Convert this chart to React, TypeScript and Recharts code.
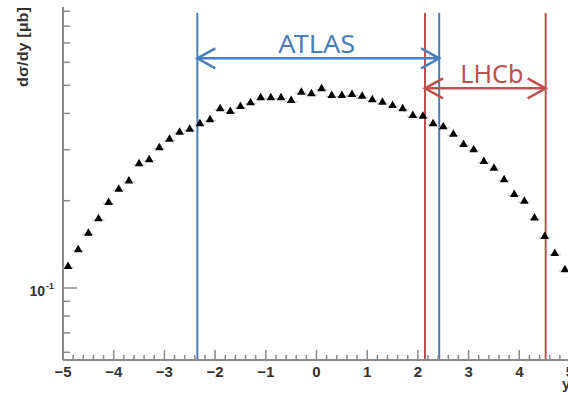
import React from 'react';
import { ComposedChart, Scatter, XAxis, YAxis, ReferenceLine } from 'recharts';

// Bin centres (rapidity y)
const yCenters = [
  -4.9, -4.7, -4.5, -4.3, -4.1, -3.9, -3.7, -3.5, -3.3, -3.1,
  -2.9, -2.7, -2.5, -2.3, -2.1, -1.9, -1.7, -1.5, -1.3, -1.1,
  -0.9, -0.7, -0.5, -0.3, -0.1, 0.1, 0.3, 0.5, 0.7, 0.9,
  1.1, 1.3, 1.5, 1.7, 1.9, 2.1, 2.3, 2.5, 2.7, 2.9,
  3.1, 3.3, 3.5, 3.7, 3.9, 4.1, 4.3, 4.5, 4.7, 4.9,
];
// dσ/dy [μb]
const dsigmaDy = [
  0.119, 0.136, 0.155, 0.174, 0.198, 0.220, 0.235, 0.269, 0.278, 0.306,
  0.327, 0.346, 0.354, 0.370, 0.382, 0.417, 0.408, 0.424, 0.437, 0.455,
  0.455, 0.455, 0.445, 0.475, 0.469, 0.488, 0.463, 0.463, 0.467, 0.460,
  0.448, 0.439, 0.428, 0.417, 0.395, 0.393, 0.370, 0.361, 0.340, 0.314,
  0.301, 0.274, 0.260, 0.237, 0.211, 0.200, 0.175, 0.151, 0.132, 0.116,
];

const atlasRange = [-2.35, 2.42];
const lhcbRange = [2.14, 4.52];
const atlasLabel = 'ATLAS';
const lhcbLabel = 'LHCb';

const xDomain = [-5, 5];
const yDomain = [0.05645, 0.9311];
const xMajorTicks = [-5, -4, -3, -2, -1, 0, 1, 2, 3, 4, 5];
const xMinorTicks = Array.from({ length: 51 }, (_, i) => Math.round((-5 + i * 0.2) * 10) / 10);
const yTicks = [0.06, 0.07, 0.08, 0.09, 0.1, 0.2, 0.3, 0.4, 0.5, 0.6, 0.7, 0.8, 0.9];
const yMajorTicks = [0.1];

const lineTop = 0.8877;
const atlasArrowY = 0.6196;
const lhcbArrowY = 0.488;

const data = yCenters.map((y, i) => ({ y, v: dsigmaDy[i] }));

const PLOT_LEFT = 63;
const PLOT_BOTTOM = 360;
const AXIS_COLOR = '#8a8a8a';
const TEXT_COLOR = '#333';
const BLUE = '#4a7ebb';
const RED = '#c0504d';
const FONT = '"Liberation Sans", Arial, sans-serif';

const Triangle = (props: any) => {
  const { cx, cy } = props;
  if (cx == null || cy == null) return null;
  return (
    <g>
      <line x1={cx - 6} x2={cx + 6} y1={cy + 1.5} y2={cy + 1.5} stroke="#bdbdbd" strokeWidth={1} />
      <polygon
        points={`${cx},${cy - 4.5} ${cx - 4.3},${cy + 3} ${cx + 4.3},${cy + 3}`}
        fill="#000"
      />
    </g>
  );
};

const YTick = (props: any) => {
  const { payload } = props;
  const y = payload.coordinate;
  const major = yMajorTicks.includes(payload.value);
  return (
    <g>
      <line x1={PLOT_LEFT} x2={PLOT_LEFT + (major ? 14 : 7)} y1={y} y2={y} stroke={AXIS_COLOR} strokeWidth={1.5} />
      {major && (
        <g fontFamily={FONT} fontWeight="bold" fill={TEXT_COLOR}>
          <text x={45} y={y + 8} fontSize={14} textAnchor="end">10</text>
          <text x={46} y={y + 1} fontSize={9}>-1</text>
        </g>
      )}
    </g>
  );
};

const XTick = (props: any) => {
  const { payload } = props;
  const x = payload.coordinate;
  const v = payload.value;
  const major = xMajorTicks.includes(v);
  return (
    <g>
      <line x1={x} x2={x} y1={PLOT_BOTTOM} y2={PLOT_BOTTOM - (major ? 10 : 5)} stroke={AXIS_COLOR} strokeWidth={1.5} />
      {major && (
        <text x={x} y={PLOT_BOTTOM + 17} textAnchor="middle" fontSize={15} fontWeight="bold" fontFamily={FONT} fill={TEXT_COLOR}>
          {v < 0 ? `\u2212${Math.abs(v)}` : `${v}`}
        </text>
      )}
    </g>
  );
};

const makeArrow = (color: string, label: string, textDx: number, textLen: number) => (props: any) => {
  const { x1, y1, x2 } = props;
  const y = y1;
  const hx = 18;
  const hy = 10;
  const mid = (x1 + x2) / 2 + textDx;
  return (
    <g>
      <line x1={x1} x2={x2} y1={y} y2={y} stroke={color} strokeWidth={2.5} />
      <polyline points={`${x1 + hx},${y - hy} ${x1},${y} ${x1 + hx},${y + hy}`} fill="none" stroke={color} strokeWidth={2.5} />
      <polyline points={`${x2 - hx},${y - hy} ${x2},${y} ${x2 - hx},${y + hy}`} fill="none" stroke={color} strokeWidth={2.5} />
      <text
        x={mid}
        y={y - 5.5}
        textAnchor="middle"
        fontSize={26}
        fontFamily='"Noto Sans", sans-serif'
        fill={color}
        textLength={textLen}
        lengthAdjust="spacingAndGlyphs"
      >
        {label}
      </text>
    </g>
  );
};

const AtlasArrow = makeArrow(BLUE, atlasLabel, -1.5, 77);
const LhcbArrow = makeArrow(RED, lhcbLabel, 6.5, 63);

export default function App() {
  return (
    <div style={{ position: 'absolute', left: 0, top: 0, width: 568, height: 394, overflow: 'hidden', background: '#fff' }}>
      <ComposedChart width={600} height={394} data={data} margin={{ top: 7, right: 30, bottom: 0, left: 0 }}>
        <XAxis
          dataKey="y"
          type="number"
          domain={xDomain}
          ticks={xMinorTicks}
          interval={0}
          allowDataOverflow
          height={34}
          tickLine={false}
          axisLine={{ stroke: AXIS_COLOR, strokeWidth: 2 }}
          tick={<XTick />}
        />
        <XAxis
          xAxisId="top"
          orientation="top"
          type="number"
          domain={xDomain}
          height={0}
          tick={false}
          tickLine={false}
          axisLine={{ stroke: AXIS_COLOR, strokeWidth: 2 }}
        />
        <YAxis
          type="number"
          scale="log"
          domain={yDomain}
          allowDataOverflow
          ticks={yTicks}
          interval={0}
          width={63}
          tickLine={false}
          axisLine={{ stroke: AXIS_COLOR, strokeWidth: 2 }}
          tick={<YTick />}
        />
        <ReferenceLine segment={[{ x: atlasRange[0], y: lineTop }, { x: atlasRange[0], y: yDomain[0] }]} stroke={BLUE} strokeWidth={2} />
        <ReferenceLine segment={[{ x: atlasRange[1], y: lineTop }, { x: atlasRange[1], y: yDomain[0] }]} stroke={BLUE} strokeWidth={2} />
        <ReferenceLine segment={[{ x: lhcbRange[0], y: lineTop }, { x: lhcbRange[0], y: yDomain[0] }]} stroke={RED} strokeWidth={2} />
        <ReferenceLine segment={[{ x: lhcbRange[1], y: lineTop }, { x: lhcbRange[1], y: yDomain[0] }]} stroke={RED} strokeWidth={2} />
        <ReferenceLine segment={[{ x: atlasRange[0], y: atlasArrowY }, { x: atlasRange[1], y: atlasArrowY }]} stroke={BLUE} shape={AtlasArrow} />
        <ReferenceLine segment={[{ x: lhcbRange[0], y: lhcbArrowY }, { x: lhcbRange[1], y: lhcbArrowY }]} stroke={RED} shape={LhcbArrow} />
        <Scatter dataKey="v" shape={<Triangle />} isAnimationActive={false} />
        <text
          transform="translate(28,7) rotate(-90)"
          textAnchor="end"
          fontSize={15}
          fontWeight="bold"
          fontFamily={FONT}
          fill={TEXT_COLOR}
          textLength={80}
          lengthAdjust="spacingAndGlyphs"
        >
          dσ/dy [μb]
        </text>
        <text x={562} y={389} fontSize={15} fontWeight="bold" fontFamily={FONT} fill={TEXT_COLOR}>
          y
        </text>
      </ComposedChart>
    </div>
  );
}
